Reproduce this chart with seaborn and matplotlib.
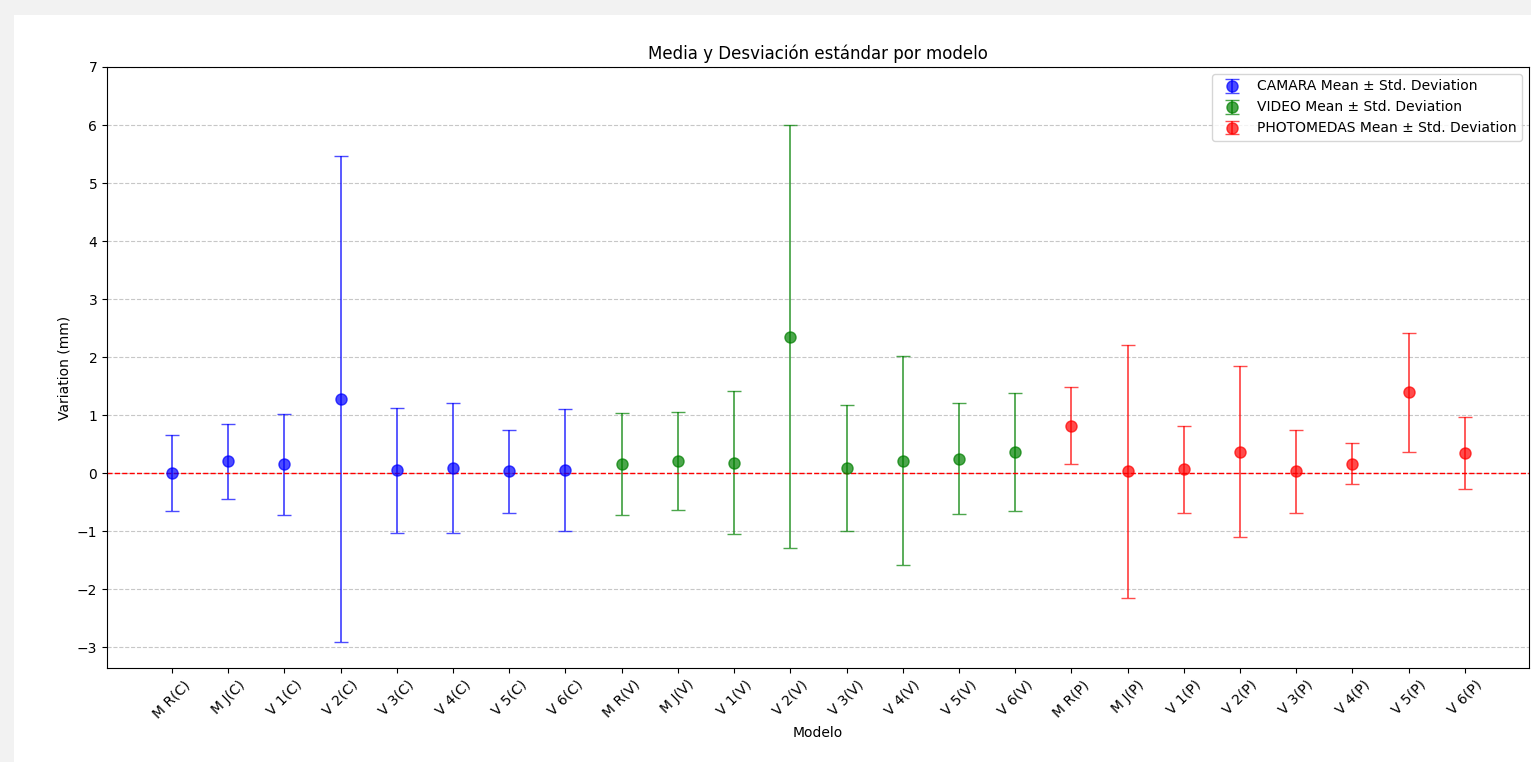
import matplotlib
matplotlib.use("Agg")
import matplotlib.pyplot as plt
import seaborn as sns
import numpy as np
from matplotlib.patches import Rectangle

sns.reset_orig()

models = ["M R", "M J", "V 1", "V 2", "V 3", "V 4", "V 5", "V 6"]

camara_mean = [0.00, 0.20, 0.15, 1.27, 0.05, 0.08, 0.03, 0.06]
camara_std = [0.66, 0.64, 0.87, 4.19, 1.08, 1.12, 0.72, 1.05]

video_mean = [0.15, 0.21, 0.18, 2.35, 0.09, 0.21, 0.25, 0.36]
video_std = [0.88, 0.84, 1.23, 3.65, 1.08, 1.80, 0.95, 1.02]

photo_mean = [0.82, 0.03, 0.07, 0.37, 0.03, 0.16, 1.39, 0.35]
photo_std = [0.66, 2.18, 0.75, 1.48, 0.71, 0.35, 1.02, 0.62]

groups = [
    ("CAMARA", "C", camara_mean, camara_std, "blue"),
    ("VIDEO", "V", video_mean, video_std, "green"),
    ("PHOTOMEDAS", "P", photo_mean, photo_std, "red"),
]

fig = plt.figure(figsize=(15.31, 7.62), dpi=100)
fig.patch.set_facecolor("#f2f2f2")
bg = Rectangle((14 / 1531, -0.05), 1.0, 1.05 - 15 / 762, transform=fig.transFigure,
               facecolor="white", edgecolor="none", zorder=-10)
fig.add_artist(bg)
ax = fig.add_axes([107 / 1531, 1 - 668 / 762, (1529 - 107) / 1531, (668 - 67) / 762])
ax.set_zorder(1)

labels = []
pos = 0
for name, suf, mean, std, col in groups:
    xs = np.arange(pos, pos + len(mean))
    ax.errorbar(xs, mean, yerr=std, fmt="o", color=col, alpha=0.7, capsize=5,
                markersize=8, elinewidth=1.3, label=f"{name} Mean ± Std. Deviation")
    labels += [f"{m}({suf})" for m in models]
    pos += len(mean)

ax.axhline(0, color="red", linestyle="--", linewidth=1)
ax.set_xticks(np.arange(len(labels)))
ax.set_xticklabels(labels, rotation=45)
ax.set_xlim(-1.156, 24.14)
ax.set_ylim(-3.36, 7)
ax.set_yticks(range(-3, 8))
ax.set_yticklabels([str(v).replace("-", "\u2212") for v in range(-3, 8)])
ax.yaxis.grid(True, linestyle="--", alpha=0.7)
ax.set_axisbelow(True)
ax.set_title("Media y Desviación estándar por modelo", fontsize=12)
ax.set_xlabel("Modelo")
ax.set_ylabel("Variation (mm)")
ax.legend(loc="upper right")

fig.savefig("out.png", dpi=100, facecolor=fig.get_facecolor())
